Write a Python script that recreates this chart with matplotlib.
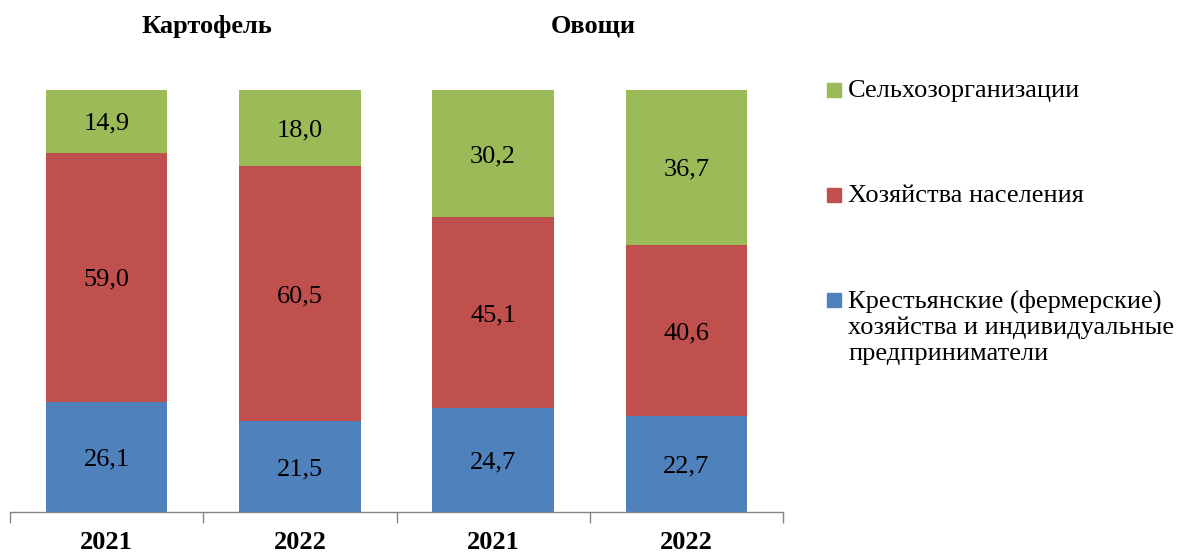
import matplotlib
matplotlib.use("Agg")
import matplotlib.pyplot as plt
from matplotlib.patches import Rectangle
import numpy as np

# data (percent)
years = ["2021", "2022", "2021", "2022"]
groups = ["Картофель", "Овощи"]
farmers = [26.1, 21.5, 24.7, 22.7]
households = [59.0, 60.5, 45.1, 40.6]
agro_orgs = [14.9, 18.0, 30.2, 36.7]

series_names = ["Крестьянские (фермерские)\nхозяйства и индивидуальные\nпредприниматели",
                "Хозяйства населения",
                "Сельхозорганизации"]
colors = ["#4F81BD", "#C0504D", "#9BBB59"]

plt.rcParams["font.family"] = ["Liberation Serif", "DejaVu Serif"]

fig = plt.figure(figsize=(11.77, 5.53), dpi=100)
ax = fig.add_axes([10 / 1177, 1 - 512 / 553, 773 / 1177, 422 / 553])

x = np.arange(len(years))
bottom = np.zeros(len(years))
for vals, col in zip([farmers, households, agro_orgs], colors):
    vals = np.array(vals)
    ax.bar(x, vals, width=0.63, bottom=bottom, color=col, edgecolor="none")
    for xi, b, v in zip(x, bottom, vals):
        ax.text(xi, b + v / 2, f"{v:.1f}".replace(".", ","), ha="center",
                va="center_baseline", fontsize=19, color="black")
    bottom += vals

ax.set_xlim(-0.5, len(years) - 0.5)
ax.set_ylim(0, 100)
for s in ["left", "right", "top"]:
    ax.spines[s].set_visible(False)
ax.spines["bottom"].set_color("#868686")
ax.spines["bottom"].set_linewidth(1)
ax.set_yticks([])
ax.set_xticks(x)
ax.set_xticklabels(years, fontsize=19, fontweight="bold")
ax.tick_params(axis="x", which="major", length=0, pad=14)
ax.set_xticks(np.arange(-0.5, len(years)), minor=True)
ax.tick_params(axis="x", which="minor", length=8, color="#868686", width=1)

# group titles, centred over each pair of bars
title_tr = matplotlib.transforms.blended_transform_factory(ax.transData, fig.transFigure)
for gi, g in enumerate(groups):
    ax.text(gi * 2 + 0.52, 1 - 26 / 553, g, transform=title_tr,
            fontsize=19, fontweight="bold", ha="center", va="center")

# legend (drawn manually to keep handles on the first line)
leg_y = [300, 195, 90]
for name, col, yy in zip(series_names, colors, leg_y):
    fig.add_artist(Rectangle((827 / 1177, 1 - (yy + 7) / 553), 14 / 1177, 14 / 553,
                             transform=fig.transFigure, color=col))
    fig.text(848 / 1177, 1 - (yy - 10) / 553, name, fontsize=19, ha="left", va="top",
             linespacing=1.2)

fig.savefig("out.png", dpi=100)
